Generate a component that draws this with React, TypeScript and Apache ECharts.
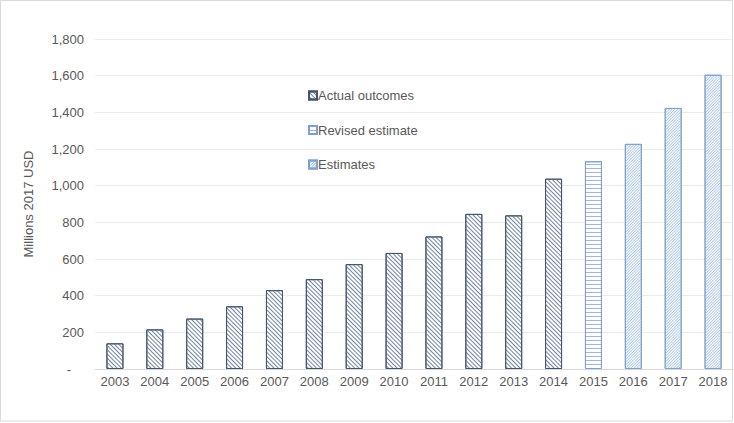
import React, { useEffect, useRef } from "react";
import * as echarts from "echarts";

const years = ["2003","2004","2005","2006","2007","2008","2009","2010","2011","2012","2013","2014","2015","2016","2017","2018"];
const actualOutcomes = [140, 216, 275, 342, 430, 490, 572, 633, 723, 846, 838, 1038, null, null, null, null];
const revisedEstimate = [null, null, null, null, null, null, null, null, null, null, null, null, 1133, null, null, null];
const estimates = [null, null, null, null, null, null, null, null, null, null, null, null, null, 1228, 1424, 1605];
const yTicks = { min: 0, max: 1800, interval: 200 };

const FONT = "'Liberation Sans', Arial, sans-serif";
const TEXT = "#595959";

export default function App() {
  const ref = useRef<HTMLDivElement>(null);
  useEffect(() => {
    if (!ref.current) return;
    const chart = echarts.init(ref.current, null, { renderer: "svg" });
    const common = { type: "bar", stack: "all", barWidth: 17 };
    chart.setOption({
      animation: false,
      textStyle: { fontFamily: FONT },
      grid: { left: 95, right: 1, top: 39, bottom: 54 },
      graphic: [
        {
          type: "rect",
          shape: { x: 0.5, y: 0.5, width: 732, height: 420.5 },
          style: { fill: "none", stroke: "#d9d9d9", lineWidth: 1 },
          silent: true,
        },
      ],
      legend: {
        orient: "vertical",
        left: 303,
        top: 84,
        itemWidth: 8,
        itemHeight: 8,
        itemGap: 21.5,
        icon: "rect",
        textStyle: { fontSize: 13, color: TEXT, fontFamily: FONT, padding: [0, 0, 0, -4] },
        data: ["Actual outcomes", "Revised estimate", "Estimates"],
      },
      xAxis: {
        type: "category",
        data: years,
        axisLine: { lineStyle: { color: "#d9d9d9" } },
        axisTick: { show: false },
        axisLabel: { fontSize: 13, color: TEXT, margin: 6, fontFamily: FONT },
      },
      yAxis: {
        type: "value",
        min: yTicks.min,
        max: yTicks.max,
        interval: yTicks.interval,
        name: "Millions 2017 USD",
        nameLocation: "middle",
        nameGap: 60,
        nameTextStyle: { fontSize: 13, color: TEXT, fontFamily: FONT },
        axisLine: { show: false },
        axisTick: { show: false },
        splitLine: { lineStyle: { color: "#ebebeb" } },
        axisLabel: {
          fontSize: 13,
          color: TEXT,
          margin: 11,
          fontFamily: FONT,
          formatter: (v: number) => (v === 0 ? "{z|-}" : v.toLocaleString("en-US")),
          rich: { z: { fontSize: 13, color: TEXT, padding: [0, 13, 0, 0] } },
        },
      },
      series: [
        {
          ...common,
          name: "Actual outcomes",
          data: actualOutcomes,
          itemStyle: {
            color: "#ffffff",
            borderColor: "#44546A",
            borderWidth: 1,
            decal: {
              symbol: "rect",
              symbolSize: 1,
              dashArrayX: [1, 0],
              dashArrayY: [0.8, 1.4],
              rotation: Math.PI / 4,
              color: "#7485A3",
            },
          },
        },
        {
          ...common,
          name: "Revised estimate",
          data: revisedEstimate,
          itemStyle: {
            color: "#ffffff",
            borderColor: "#7F9FCF",
            borderWidth: 1,
            decal: {
              symbol: "rect",
              symbolSize: 1,
              dashArrayX: [1, 0],
              dashArrayY: [1, 3],
              rotation: 0,
              color: "#9FB6DD",
            },
          },
        },
        {
          ...common,
          name: "Estimates",
          data: estimates,
          itemStyle: {
            color: "#ffffff",
            borderColor: "#7F9FCF",
            borderWidth: 1,
            decal: {
              symbol: "rect",
              symbolSize: 1,
              dashArrayX: [1, 0],
              dashArrayY: [0.8, 1],
              rotation: -Math.PI / 4,
              color: "#B4CCEA",
            },
          },
        },
      ],
    });
    return () => chart.dispose();
  }, []);
  return (
    <div style={{ position: "fixed", left: 0, top: 0, width: 734, height: 423, background: "#fff" }}>
      <div ref={ref} style={{ width: 734, height: 423 }} />
    </div>
  );
}
